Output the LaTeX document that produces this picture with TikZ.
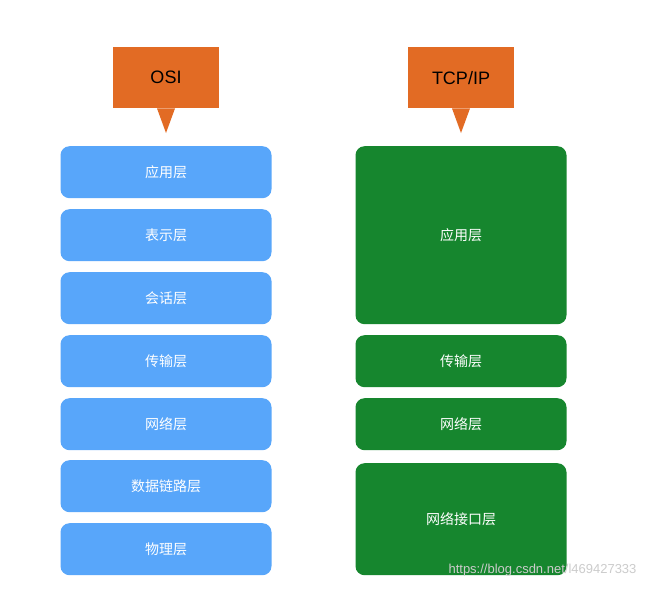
\documentclass[tikz,border=0pt]{standalone}
\usepackage{fontspec}
\setmainfont{Liberation Sans}
\newfontfamily\cjk{Noto Sans CJK SC}
\definecolor{osiblue}{RGB}{88,166,250}
\definecolor{tcpgreen}{RGB}{22,134,46}
\definecolor{tagorange}{RGB}{226,107,36}
\tikzset{
  layer/.style={rectangle,rounded corners=9pt,minimum width=211pt,text=white,font=\cjk\fontsize{14}{16}\selectfont,anchor=north},
  osi/.style={layer,fill=osiblue},
  tcp/.style={layer,fill=tcpgreen},
  tag/.style={rectangle,fill=tagorange,minimum width=106pt,minimum height=61pt,text=black,font=\fontsize{18}{20}\selectfont,anchor=north}
}
\begin{document}
\begin{tikzpicture}[x=1pt,y=-1pt]
\useasboundingbox[fill=white] (0,0) rectangle (648,589);

% tags
\node[tag] (ositag) at (166,47) {OSI};
\node[tag] (tcptag) at (461,47) {TCP/IP};
\fill[tagorange] ([xshift=-9pt]ositag.south) -- (166,133) -- ([xshift=9pt]ositag.south) -- cycle;
\fill[tagorange] ([xshift=-9pt]tcptag.south) -- (461,133) -- ([xshift=9pt]tcptag.south) -- cycle;

% OSI layers
\foreach \y/\t in {146/应用层, 209/表示层, 272/会话层, 335/传输层, 398/网络层, 460/数据链路层, 523/物理层}
  \node[osi,minimum height=52pt] (osi\y) at (166,\y) {\t};

% TCP/IP layers
\node[tcp,minimum height=178pt] (app) at (461,146) {应用层};
\node[tcp,minimum height=52pt] (trans) at (461,335) {传输层};
\node[tcp,minimum height=52pt] (net) at (461,398) {网络层};
\node[tcp,minimum height=112pt] (link) at (461,463) {网络接口层};

\node[anchor=east,text=white!80!black,font=\fontsize{13}{15}\selectfont] (mark) at (640,570) {https://blog.csdn.net/l469427333};
\end{tikzpicture}
\end{document}
